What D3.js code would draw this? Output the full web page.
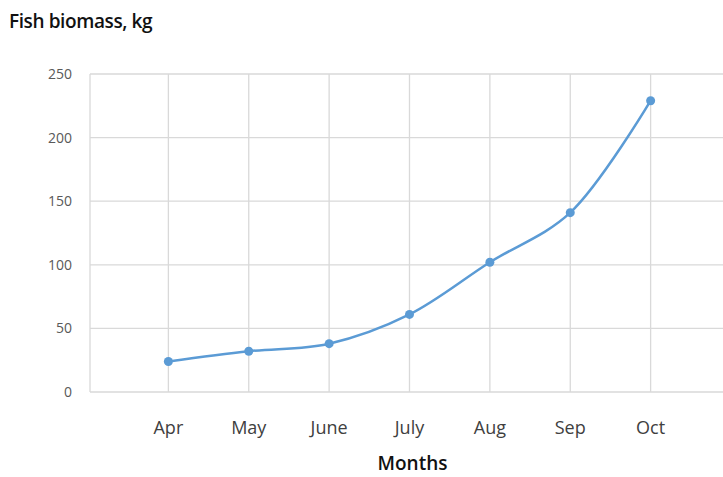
<!DOCTYPE html>
<html>
<head>
<meta charset="utf-8">
<script src="https://cdn.jsdelivr.net/npm/d3@7"></script>
<style>
  body { margin: 0; background: #fff; }
  text { font-family: "Open Sans", sans-serif; }
</style>
</head>
<body>
<script>
// data
const months = ['Apr', 'May', 'June', 'July', 'Aug', 'Sep', 'Oct'];
const biomass = [24, 32, 38, 61, 102, 141, 229];
const yTicks = [0, 50, 100, 150, 200, 250];

const W = 723, H = 477;

// months sit at 1..7 on the axis, gridlines on every unit
const x = d3.scaleLinear().domain([0, 8]).range([88, 731]);
const y = d3.scaleLinear().domain([0, 250]).range([392, 74]);

const svg = d3.select('body').append('svg')
  .attr('width', W)
  .attr('height', H);

// horizontal gridlines
svg.append('g')
  .selectAll('line')
  .data(yTicks)
  .join('line')
  .attr('x1', 90).attr('x2', W)
  .attr('y1', d => y(d)).attr('y2', d => y(d))
  .attr('stroke', '#d9d9d9')
  .attr('stroke-width', 1.3);

// vertical gridlines (left edge + one per month)
svg.append('g')
  .selectAll('line')
  .data(d3.range(0, 8))
  .join('line')
  .attr('x1', d => d === 0 ? 90 : x(d)).attr('x2', d => d === 0 ? 90 : x(d))
  .attr('y1', y(250)).attr('y2', y(0))
  .attr('stroke', '#d9d9d9')
  .attr('stroke-width', 1.3);

// y tick labels
svg.append('g')
  .selectAll('text')
  .data(yTicks)
  .join('text')
  .attr('x', 72)
  .attr('y', d => y(d) + 5)
  .attr('text-anchor', 'end')
  .attr('font-size', 14)
  .attr('fill', '#595959')
  .text(d => d);

// x tick labels
svg.append('g')
  .selectAll('text')
  .data(months)
  .join('text')
  .attr('x', (d, i) => x(i + 1))
  .attr('y', 434)
  .attr('text-anchor', 'middle')
  .attr('font-size', 18)
  .attr('fill', '#404040')
  .text(d => d);

// smoothed line
const line = d3.line()
  .x((d, i) => x(i + 1))
  .y(d => y(d))
  .curve(d3.curveCatmullRom.alpha(0.5));

svg.append('path')
  .datum(biomass)
  .attr('d', line)
  .attr('fill', 'none')
  .attr('stroke', '#5b9bd5')
  .attr('stroke-width', 2.5);

svg.append('g')
  .selectAll('circle')
  .data(biomass)
  .join('circle')
  .attr('cx', (d, i) => x(i + 1))
  .attr('cy', d => y(d))
  .attr('r', 4.5)
  .attr('fill', '#5b9bd5');

// titles
svg.append('text')
  .attr('x', 9)
  .attr('y', 28)
  .attr('font-size', 19)
  .attr('font-weight', 600)
  .attr('fill', '#111')
  .attr('letter-spacing', -0.4)
  .text('Fish biomass, kg');

svg.append('text')
  .attr('x', x(4) + 3)
  .attr('y', 470)
  .attr('text-anchor', 'middle')
  .attr('font-size', 19)
  .attr('font-weight', 600)
  .attr('fill', '#111')
  .text('Months');
</script>
</body>
</html>
